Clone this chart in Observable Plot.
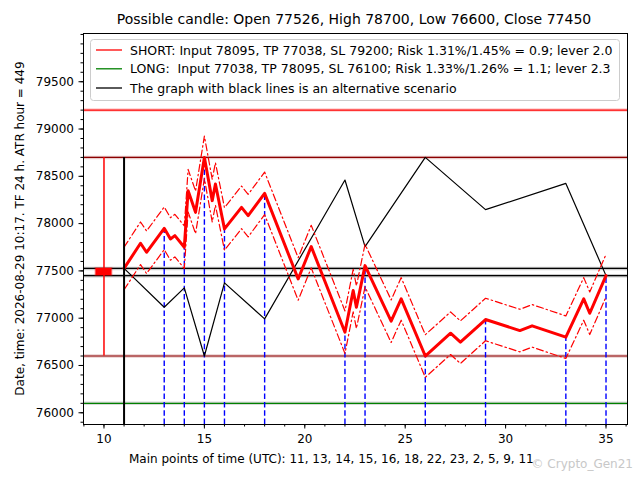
<!DOCTYPE html>
<html>
<head>
<meta charset="utf-8">
<script src="https://cdn.jsdelivr.net/npm/d3@7"></script>
<script src="https://cdn.jsdelivr.net/npm/@observablehq/plot@0.6"></script>
<style>
  html, body { margin: 0; padding: 0; background: #fff; }
  #chart { width: 640px; height: 480px; }
</style>
</head>
<body>
<div id="chart"></div>
<script>
// ---- data ----
const titleText = "Possible candle: Open 77526, High 78700, Low 76600, Close 77450";
const xLabelText = "Main points of time (UTC): 11, 13, 14, 15, 16, 18, 22, 23, 2, 5, 9, 11";
const yLabelText = "Date, time: 2026-08-29 10:17. TF 24 h. ATR hour = 449";
const legendLabels = [
  "SHORT: Input 78095, TP 77038, SL 79200; Risk 1.31%/1.45% = 0.9; lever 2.0",
  "LONG:  Input 77038, TP 78095, SL 76100; Risk 1.33%/1.26% = 1.1; lever 2.3",
  "The graph with black lines is an alternative scenario"
];

// candle
const candleX = 10;
const candleOpen = 77526, candleHigh = 78700, candleLow = 76600, candleClose = 77450;
const startX = 11;

// horizontal levels
const slShort = 79200;
const slLong = 76100;

// main (red) scenario path
const redX = [11, 11.82, 12.12, 13, 13.31, 13.53, 14, 14.19, 14.56, 15, 15.39, 15.55, 16, 16.85, 17.18, 18,
              19.67, 20.32, 22, 22.41, 22.57, 23, 24.3, 24.8, 26, 27.26, 27.75, 29, 30.71, 31.32, 33, 33.89, 34.19, 35];
const redY = [77526, 77792, 77697, 77950, 77838, 77873, 77750, 78348, 78119, 78700, 78243, 78419, 77944, 78172, 78084, 78320,
              77415, 77757, 76852, 77292, 77116, 77556, 76968, 77204, 76600, 76841, 76746, 76986, 76869, 76919, 76799, 77204, 77052, 77450];
const bandOffset = 225; // half ATR band

// alternative (black) scenario
const altX = [11, 13, 14, 15, 16, 18, 22, 23, 26, 29, 33, 35];
const altY = [77526, 77116, 77320, 76600, 77373, 76993, 78461, 77757, 78700, 78148, 78425, 77450];

// main time points (blue dashed)
const keyX = [13, 14, 15, 16, 18, 22, 23, 26, 29, 33, 35];

// axis ticks
const xTicks = [10, 15, 20, 25, 30, 35];
const xMinor = d3.range(9, 37, 1);
const yTicks = [76000, 76500, 77000, 77500, 78000, 78500, 79000, 79500];
const yMinor = d3.range(75900, 80001, 100);

const xDomain = [8.98, 36.07];
const yDomain = [75876, 80010];

// ---- build tables ----
const red = redX.map((x, i) => ({x, y: redY[i]}));
const redUp = red.map(d => ({x: d.x, y: d.y + bandOffset}));
const redDn = red.map(d => ({x: d.x, y: d.y - bandOffset}));
const alt = altX.map((x, i) => ({x, y: altY[i]}));
const keys = keyX.map(x => ({x, y: redY[redX.indexOf(x)]}));

const levels = [
  {y: slShort, c: "red", halo: "rgba(255,0,0,0.2)"},
  {y: candleHigh, c: "#8b0000", halo: "rgba(139,0,0,0.2)"},
  {y: candleLow, c: "#8b0000", halo: "rgba(139,0,0,0.2)"},
  {y: candleOpen, c: "black", halo: "rgba(0,0,0,0.2)"},
  {y: candleClose, c: "black", halo: "rgba(0,0,0,0.2)"},
  {y: slLong, c: "green", halo: "rgba(0,0,0,0.15)"}
];

const font = "DejaVu Sans, sans-serif";
const dashDot = "7,3,1.5,3";

const svg = Plot.plot({
  width: 640,
  height: 480,
  marginLeft: 83,
  marginRight: 13,
  marginTop: 33,
  marginBottom: 56,
  style: {fontFamily: font, fontSize: "12px", background: "white", color: "black"},
  x: {domain: xDomain, label: null},
  y: {domain: yDomain, label: null},
  marks: [
    // level lines
    Plot.ruleY(levels, {y: "y", stroke: "halo", strokeWidth: 3.5}),
    Plot.ruleY(levels, {y: "y", stroke: "c", strokeWidth: 1.2}),
    // blue dashed verticals
    Plot.ruleX(keys, {x: "x", y1: yDomain[0], y2: "y", stroke: "blue", strokeWidth: 1.4, strokeDasharray: "5.5,2.8"}),
    // alternative scenario
    Plot.line(alt, {x: "x", y: "y", stroke: "black", strokeWidth: 1.2}),
    // band lines
    Plot.line(redUp, {x: "x", y: "y", stroke: "red", strokeWidth: 1.2, strokeDasharray: dashDot}),
    Plot.line(redDn, {x: "x", y: "y", stroke: "red", strokeWidth: 1.2, strokeDasharray: dashDot}),
    // main line
    Plot.line(red, {x: "x", y: "y", stroke: "red", strokeWidth: 3}),
    // candle
    Plot.ruleX([candleX], {x: d => d, y1: candleLow, y2: candleHigh, stroke: "red", strokeWidth: 1.5}),
    Plot.rect([{x1: candleX - 0.4, x2: candleX + 0.4, y1: candleClose, y2: candleOpen}],
      {x1: "x1", x2: "x2", y1: "y1", y2: "y2", fill: "red", stroke: "rgba(255,0,0,0.3)", strokeWidth: 2}),
    // start marker
    Plot.ruleX([startX], {x: d => d, y1: yDomain[0], y2: candleHigh, stroke: "black", strokeWidth: 2}),
    // axes
    Plot.axisX({ticks: xMinor, tickSize: 2.5, tickFormat: () => ""}),
    Plot.axisX({ticks: xTicks, tickSize: 4.5, tickPadding: 5, tickFormat: d => String(d)}),
    Plot.axisY({ticks: yMinor, tickSize: 2.5, tickFormat: () => ""}),
    Plot.axisY({ticks: yTicks, tickSize: 4.5, tickPadding: 5, tickFormat: d => String(d)}),
    Plot.frame({stroke: "black", strokeWidth: 1})
  ]
});

const s = d3.select(svg);
// title
s.append("text").attr("x", 354).attr("y", 24).attr("text-anchor", "middle")
  .attr("font-family", font).attr("font-size", 14).attr("fill", "black").text(titleText);
// x label
s.append("text").attr("x", 129).attr("y", 463).attr("text-anchor", "start")
  .attr("font-family", font).attr("font-size", 12).attr("fill", "black").text(xLabelText);
// y label
s.append("text").attr("transform", "translate(24,228.5) rotate(-90)").attr("text-anchor", "middle")
  .attr("font-family", font).attr("font-size", 12).attr("fill", "black").text(yLabelText);

// legend
const lg = s.append("g");
lg.append("rect").attr("x", 90.5).attr("y", 39.5).attr("width", 529).attr("height", 61).attr("rx", 3)
  .attr("fill", "white").attr("fill-opacity", 0.8).attr("stroke", "#cccccc");
const legendColors = ["red", "green", "black"];
const legendYs = [50, 68.8, 88];
legendLabels.forEach((t, i) => {
  lg.append("line").attr("x1", 96).attr("x2", 122).attr("y1", legendYs[i]).attr("y2", legendYs[i])
    .attr("stroke", legendColors[i]).attr("stroke-width", 1.3);
  lg.append("text").attr("x", 130).attr("y", legendYs[i] + 4.6).attr("text-anchor", "start")
    .attr("font-family", font).attr("font-size", 12.5).attr("fill", "black")
    .attr("xml:space", "preserve").style("white-space", "pre").text(t);
});

// watermark
s.append("text").attr("x", 633).attr("y", 468).attr("text-anchor", "end")
  .attr("font-family", font).attr("font-size", 12).attr("fill", "#c8c8c8").text("\u00a9 Crypto_Gen21");

document.getElementById("chart").appendChild(svg);
</script>
</body>
</html>
